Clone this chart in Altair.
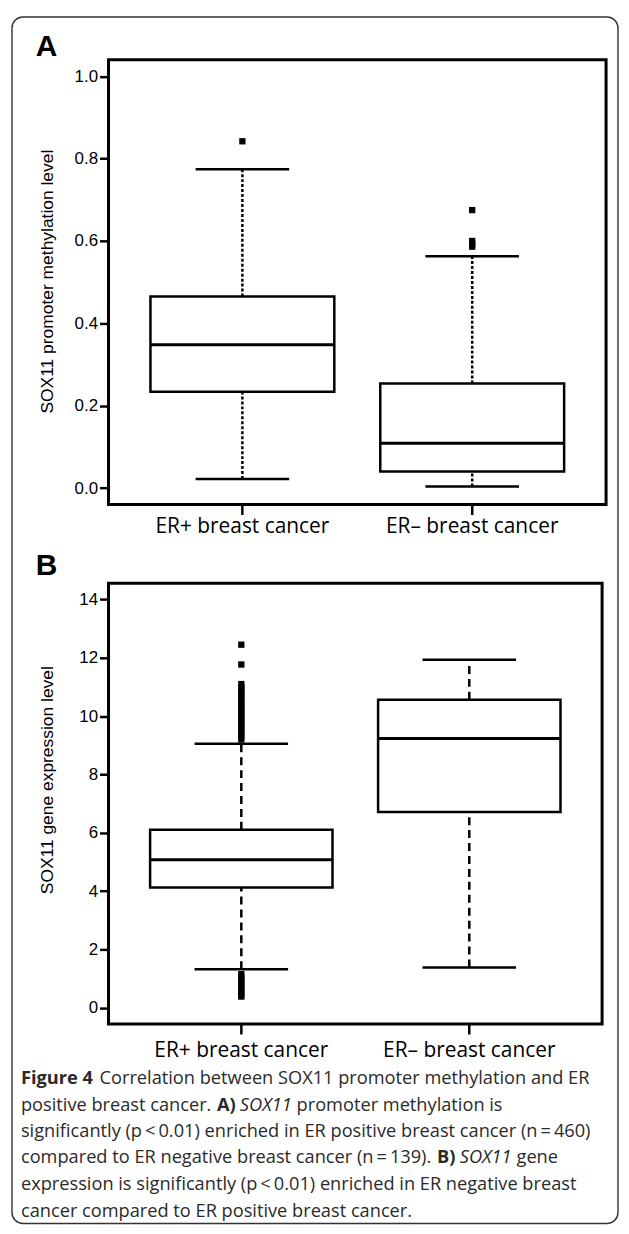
import altair as alt
import pandas as pd

categories = ["ER+ breast cancer", "ER\u2013 breast cancer"]

# Panel A: SOX11 promoter methylation level (box statistics)
meth_lower = [0.022, 0.004]
meth_q1 = [0.234, 0.040]
meth_median = [0.348, 0.109]
meth_q3 = [0.465, 0.254]
meth_upper = [0.774, 0.563]
meth_out_cat = ["ER+ breast cancer", "ER\u2013 breast cancer", "ER\u2013 breast cancer",
                "ER\u2013 breast cancer", "ER\u2013 breast cancer"]
meth_out_val = [0.842, 0.675, 0.600, 0.592, 0.586]
meth_ticks = [0.0, 0.2, 0.4, 0.6, 0.8, 1.0]

# Panel B: SOX11 gene expression level
expr_lower = [1.32, 1.38]
expr_q1 = [4.12, 6.71]
expr_median = [5.07, 9.23]
expr_q3 = [6.10, 10.56]
expr_upper = [9.05, 11.93]
expr_out_val = [12.45, 11.77, 11.10, 11.00, 10.90, 10.80, 10.70, 10.60, 10.50, 10.40,
                10.30, 10.20, 10.10, 10.00, 9.90, 9.80, 9.70, 9.60, 9.50, 9.40, 9.30, 9.20,
                1.15, 1.05, 0.95, 0.85, 0.75, 0.65, 0.55, 0.45, 0.38]
expr_out_cat = ["ER+ breast cancer"] * len(expr_out_val)
expr_ticks = [0, 2, 4, 6, 8, 10, 12, 14]

caption_segments = [
    # (text, style, line index, x start in page px)
    ("Figure 4", "bold", 0, 19),
    ("Correlation between SOX11 promoter methylation and ER", "normal", 0, 98),
    ("positive breast cancer.", "normal", 1, 19),
    ("A)", "bold", 1, 216),
    ("SOX11", "italic", 1, 239),
    ("promoter methylation is", "normal", 1, 296),
    ("significantly (p\u2009<\u20090.01) enriched in ER positive breast cancer (n\u2009=\u2009460)", "normal", 2, 19),
    ("compared to ER negative breast cancer (n\u2009=\u2009139).", "normal", 3, 19),
    ("B)", "bold", 3, 437),
    ("SOX11", "italic", 3, 460),
    ("gene", "normal", 3, 517),
    ("expression is significantly (p\u2009<\u20090.01) enriched in ER negative breast", "normal", 4, 19),
    ("cancer compared to ER positive breast cancer.", "normal", 5, 19),
]

LABEL_FONT = "Liberation Sans"
CAP_FONT = "Open Sans"


def panel(lower, q1, med, q3, upper, out_cat, out_val, domain, ticks, fmt, ytitle,
          dash, title_y, label_pad, box_w):
    df = pd.DataFrame({"cat": categories, "lower": lower, "q1": q1, "median": med,
                       "q3": q3, "upper": upper})
    odf = pd.DataFrame({"cat": out_cat, "value": out_val})
    xenc = alt.X("cat:N", sort=categories,
                 scale=alt.Scale(type="band", paddingInner=0.2, paddingOuter=0.1825),
                 axis=alt.Axis(title=None, labelAngle=0, labelFont=CAP_FONT, labelFontSize=21,
                               labelColor="black", tickSize=10, tickWidth=2.5,
                               tickColor="black", labelPadding=label_pad, domain=False))
    yscale = alt.Scale(domain=domain, nice=False, zero=False)
    yaxis = alt.Axis(values=ticks, format=fmt, title=ytitle, labelFont=LABEL_FONT,
                     labelFontSize=17, labelColor="black", tickSize=9, tickWidth=2.5,
                     tickColor="black", labelPadding=2, domain=False,
                     titleFont=LABEL_FONT, titleFontSize=17.5, titleFontWeight="normal",
                     titleColor="black", titleAngle=270, titleAlign="center",
                     titleBaseline="alphabetic", titleX=-56, titleY=title_y)

    def Y(field):
        return alt.Y(f"{field}:Q", scale=yscale, axis=yaxis)

    base = alt.Chart(df)
    whisk_hi = base.mark_rule(color="black", strokeWidth=2.5, strokeDash=dash).encode(
        x=xenc, y=Y("q3"), y2="upper")
    whisk_lo = base.mark_rule(color="black", strokeWidth=2.5, strokeDash=dash).encode(
        x=xenc, y=Y("lower"), y2="q1")
    box = base.mark_bar(fill="white", stroke="black", strokeWidth=2.5).encode(
        x=xenc, y=Y("q1"), y2="q3")
    median = base.mark_tick(color="black", thickness=3, size=box_w, opacity=1).encode(
        x=xenc, y=Y("median"))
    cap_hi = base.mark_tick(color="black", thickness=2.5, size=94, opacity=1).encode(
        x=xenc, y=Y("upper"))
    cap_lo = base.mark_tick(color="black", thickness=2.5, size=94, opacity=1).encode(
        x=xenc, y=Y("lower"))
    outl = alt.Chart(odf).mark_square(color="black", size=40, opacity=1).encode(
        x=xenc, y=Y("value"))
    return [whisk_hi, whisk_lo, box, median, cap_hi, cap_lo, outl]


one = pd.DataFrame({"k": [0]})

# Panel A  (plot area: page x 107..607, y 55..502)
A_TOP, A_LEFT = 55, 107
layers_a = panel(meth_lower, meth_q1, meth_median, meth_q3, meth_upper,
                 meth_out_cat, meth_out_val, [-0.04, 1.04], meth_ticks, ".1f",
                 "SOX11 promoter methylation level", [3, 2], 222.5, 1, 185)
border = alt.Chart(one).mark_rect(fill="white", fillOpacity=0, stroke="#333",
                                  strokeWidth=1.4, cornerRadius=11).encode(
    x=alt.value(10 - A_LEFT), x2=alt.value(619 - A_LEFT),
    y=alt.value(12 - A_TOP), y2=alt.value(1224.5 - A_TOP))
label_a = alt.Chart(pd.DataFrame({"t": ["A"]})).mark_text(
    font=LABEL_FONT, fontSize=30, fontWeight="bold", align="left",
    baseline="alphabetic", color="black").encode(
    text="t:N", x=alt.value(34 - A_LEFT), y=alt.value(51 - A_TOP))
chart_a = alt.layer(border, label_a, *layers_a).properties(width=500, height=447)

# Panel B  (plot area: page x 107..603, y 581..1024)
B_TOP, B_LEFT = 581, 107
layers_b = panel(expr_lower, expr_q1, expr_median, expr_q3, expr_upper,
                 expr_out_cat, expr_out_val, [-0.56, 14.56], expr_ticks, "d",
                 "SOX11 gene expression level", [8, 5], 197.5, 6, 184)
label_b = alt.Chart(pd.DataFrame({"t": ["B"]})).mark_text(
    font=LABEL_FONT, fontSize=30, fontWeight="bold", align="left",
    baseline="alphabetic", color="black").encode(
    text="t:N", x=alt.value(34 - B_LEFT), y=alt.value(573 - B_TOP))

baselines = [1084, 1111, 1138, 1164, 1191, 1218]
cap_layers = []
for text, style, line, xs in caption_segments:
    kw = dict(font=CAP_FONT, fontSize=18.3, align="left", baseline="alphabetic",
              color="#2a2a2a")
    if style == "bold":
        kw["fontWeight"] = "bold"
    if style == "italic":
        kw["fontStyle"] = "italic"
    cap_layers.append(
        alt.Chart(pd.DataFrame({"t": [text]})).mark_text(**kw).encode(
            text="t:N", x=alt.value(xs - B_LEFT), y=alt.value(baselines[line] - B_TOP)))

chart_b = alt.layer(label_b, *layers_b, *cap_layers).properties(width=496, height=443)

chart = alt.vconcat(chart_a, chart_b, spacing=79, bounds="flush").properties(
    padding={"left": 1, "top": 3, "right": 0, "bottom": 0}
).configure_view(stroke="black", strokeWidth=3).configure_axis(grid=False)

chart.save("out.html", embed_options={"renderer": "svg", "actions": False})
